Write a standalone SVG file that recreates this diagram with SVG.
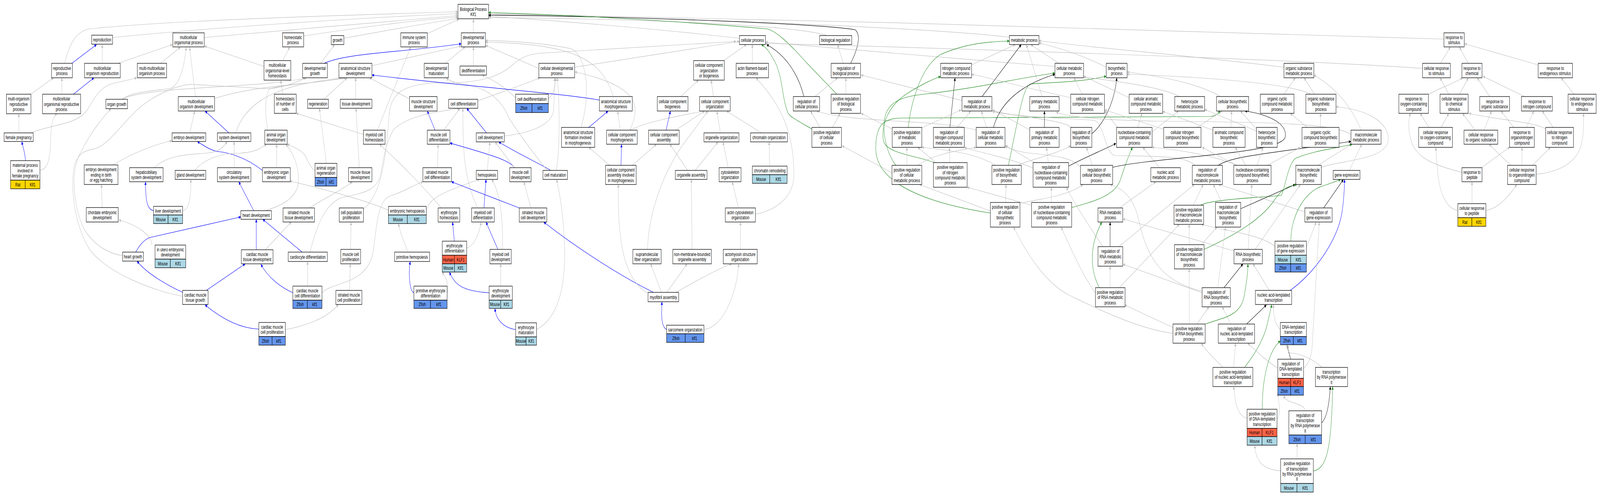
<svg xmlns="http://www.w3.org/2000/svg" width="6212" height="1269" viewBox="0 0 6212 1269" preserveAspectRatio="none">
<defs>
<marker id="ag" viewBox="0 0 10 10" refX="10" refY="5" markerWidth="11" markerHeight="8" markerUnits="userSpaceOnUse" orient="auto"><path d="M0,0L10,5L0,10z" fill="#c0c0c0"/></marker>
<marker id="ab" viewBox="0 0 10 10" refX="10" refY="5" markerWidth="11" markerHeight="8" markerUnits="userSpaceOnUse" orient="auto"><path d="M0,0L10,5L0,10z" fill="#0000ff"/></marker>
<marker id="ak" viewBox="0 0 10 10" refX="10" refY="5" markerWidth="11" markerHeight="8" markerUnits="userSpaceOnUse" orient="auto"><path d="M0,0L10,5L0,10z" fill="#000000"/></marker>
<marker id="av" viewBox="0 0 10 10" refX="10" refY="5" markerWidth="11" markerHeight="8" markerUnits="userSpaceOnUse" orient="auto"><path d="M0,0L10,5L0,10z" fill="#228b22"/></marker>
</defs>
<style>
svg{width:100vw;height:100vh;display:block}
.n rect{fill:#ffffff;stroke:#000000;stroke-width:1.3}
.n rect.r{fill:#ffd700}
.n rect.m{fill:#add8e6}
.n rect.z{fill:#6495ed}
.n rect.h{fill:#ff6347}
text{font-family:"Liberation Sans",Arial,Helvetica,sans-serif;font-size:12.8px;text-anchor:middle;dominant-baseline:central;fill:#000000}
#edges path{fill:none;stroke-width:1.2}
#edges .g{stroke:#c0c0c0;marker-end:url(#ag)}
#edges .b{stroke:#0000ff;marker-end:url(#ab)}
#edges .k{stroke:#000000;marker-end:url(#ak)}
#edges .v{stroke:#228b22;marker-end:url(#av)}
</style>
<rect x="0" y="0" width="6212" height="1269" fill="#ffffff"/>
<g id="edges">
<path class="g" d="M251,162 C270,110 295,82 345,74 C700,50 1400,38 1778,30"/>
<path class="g" d="M437,96 C800,72 1400,45 1778,35"/>
<path class="g" d="M793,96 C1100,78 1500,55 1778,40"/>
<path class="g" d="M1179,92 C1400,70 1600,52 1778,44"/>
<path class="g" d="M1335,98 C1500,78 1650,60 1781,47"/>
<path class="g" d="M1659,86 L1782,49"/>
<path class="g" d="M1838,84 L1838,49"/>
<path class="g" d="M2871,98 C2500,70 2100,50 1897,42"/>
<path class="g" d="M3211,91 C3100,65 2500,48 1897,45"/>
<path class="g" d="M3919,95 C3500,65 2500,45 1897,37"/>
<path class="g" d="M5606,100 C5000,88 3000,45 1897,35"/>
<path class="k" d="M3303,162 C3330,125 3345,90 3320,76 C3200,62 2500,42 1897,39"/>
<path class="v" d="M3249,241 L3135,163 C3050,100 3010,80 2980,74 C2600,52 2200,38 1897,32"/>
<path class="b" d="M279,162 L375,114"/>
<path class="g" d="M397,162 L397,114"/>
<path class="g" d="M458,162 L670,114"/>
<path class="g" d="M623,162 L700,121"/>
<path class="g" d="M120,241 L208,199"/>
<path class="g" d="M240,241 L240,199"/>
<path class="b" d="M285,241 L365,199"/>
<path class="g" d="M73,340 L73,291"/>
<path class="g" d="M119,340 C200,318 300,320 340,280 C370,245 390,225 430,215 C470,208 500,205 531,199"/>
<path class="b" d="M99,411 C97,390 88,375 85,362"/>
<path class="g" d="M155,436 C190,432 195,400 197,350 C199,310 210,295 222,291"/>
<path class="g" d="M474,254 C510,235 600,232 663,226 C700,215 715,170 723,121"/>
<path class="g" d="M474,254 C560,220 1050,225 1186,199"/>
<path class="g" d="M759,247 L736,121"/>
<path class="g" d="M1025,170 L794,118"/>
<path class="g" d="M737,340 L756,284"/>
<path class="b" d="M889,340 L796,284"/>
<path class="g" d="M833,252 C1000,215 1250,215 1327,199"/>
<path class="g" d="M915,340 C960,250 1100,215 1335,199"/>
<path class="g" d="M1040,333 C1028,290 1028,250 1045,228 C1100,215 1250,212 1343,199"/>
<path class="g" d="M476,654 C420,648 370,630 330,590 C280,530 275,430 312,392 C350,340 400,300 431,278"/>
<path class="g" d="M709,758 C600,745 420,700 350,640 C290,580 270,480 290,420 C310,385 340,385 371,380 C420,370 470,320 531,282 C600,240 700,215 749,216 L1040,227 C1100,225 1150,210 1190,199"/>
<path class="g" d="M438,422 C520,390 600,370 667,360"/>
<path class="b" d="M1019,436 C950,400 880,390 850,388 C820,386 790,372 766,362"/>
<path class="g" d="M600,429 C640,400 720,395 800,392 C850,390 870,375 882,362"/>
<path class="g" d="M909,429 L909,362"/>
<path class="g" d="M397,531 L394,472"/>
<path class="g" d="M590,627 C588,600 530,575 461,563"/>
<path class="b" d="M596,539 C570,536 565,510 565,465"/>
<path class="g" d="M709,539 C735,535 741,510 741,459"/>
<path class="g" d="M756,436 C800,400 880,392 930,392 C990,390 1010,380 1035,369"/>
<path class="g" d="M1030,539 C1100,525 1150,505 1158,470 C1162,440 1150,400 1110,369"/>
<path class="g" d="M1074,429 L1074,369"/>
<path class="g" d="M1223,436 C1205,430 1195,410 1185,398 C1170,385 1140,375 1115,369"/>
<path class="b" d="M985,539 L927,465"/>
<path class="b" d="M995,639 L995,561"/>
<path class="b" d="M1173,645 L1020,561"/>
<path class="b" d="M527,645 C540,630 555,615 580,608 L935,555"/>
<path class="b" d="M709,748 C650,730 570,700 532,668"/>
<path class="b" d="M801,743 L952,675"/>
<path class="b" d="M1137,749 C1090,735 1040,710 1013,676"/>
<path class="b" d="M1005,842 C930,840 860,815 796,780"/>
<path class="g" d="M1030,639 L1131,568"/>
<path class="g" d="M1098,155 L1125,120"/>
<path class="g" d="M1245,162 L1299,114"/>
<path class="g" d="M1465,333 L1595,120"/>
<path class="g" d="M1098,241 L1090,205"/>
<path class="g" d="M1411,344 L1150,290"/>
<path class="g" d="M1713,532 C1660,490 1560,420 1473,369"/>
<path class="g" d="M1267,418 L1240,277"/>
<path class="g" d="M1257,254 L1348,199"/>
<path class="g" d="M1381,254 L1381,199"/>
<path class="g" d="M1590,253 L1434,199"/>
<path class="g" d="M1395,429 L1382,277"/>
<path class="b" d="M1689,333 L1659,284"/>
<path class="g" d="M1723,333 L1786,277"/>
<path class="b" d="M1889,340 L1812,277"/>
<path class="g" d="M1855,532 C1800,460 1797,380 1797,277"/>
<path class="g" d="M1203,645 C1230,580 1260,520 1330,505 C1400,495 1470,490 1480,440 C1490,400 1500,360 1530,330 C1600,290 1720,285 1784,277"/>
<path class="g" d="M1411,535 C1480,500 1500,400 1510,300 C1515,240 1560,215 1700,212 C1850,214 1940,200 2000,160 C2040,140 2070,138 2100,136 L2858,106"/>
<path class="g" d="M1699,429 L1701,369"/>
<path class="b" d="M1997,429 C1980,410 1900,395 1747,366"/>
<path class="g" d="M1892,436 L1902,363"/>
<path class="g" d="M1997,429 L1922,363"/>
<path class="b" d="M2138,436 C2100,420 2030,400 1936,363"/>
<path class="g" d="M1958,348 C2060,340 2145,320 2150,280 L2153,199"/>
<path class="g" d="M1855,258 C1950,235 2040,215 2096,199"/>
<path class="g" d="M2002,250 C1980,238 1950,215 1872,192"/>
<path class="g" d="M2129,253 C2150,240 2158,220 2158,199"/>
<path class="g" d="M2125,436 C2080,400 2000,330 1975,300 C1950,260 1900,225 1800,215 C1760,212 1740,205 1733,199"/>
<path class="g" d="M2160,436 C2175,380 2172,260 2164,199"/>
<path class="g" d="M1655,540 C1665,510 1700,495 1862,459"/>
<path class="g" d="M1508,538 C1450,520 1300,490 1125,463"/>
<path class="b" d="M1879,532 L1887,459"/>
<path class="g" d="M1950,638 C1955,560 1940,490 1909,459"/>
<path class="b" d="M2016,532 C1950,515 1850,490 1753,465"/>
<path class="g" d="M2061,532 L2034,465"/>
<path class="g" d="M1250,749 C1290,720 1430,730 1450,640 C1465,560 1470,510 1520,500 C1570,490 1600,475 1642,465"/>
<path class="g" d="M1202,532 C1250,510 1320,490 1368,465"/>
<path class="g" d="M1361,638 L1363,568"/>
<path class="g" d="M1357,743 L1360,675"/>
<path class="g" d="M1108,843 C1180,835 1270,815 1314,779"/>
<path class="g" d="M1194,732 L1194,669"/>
<path class="g" d="M1584,645 C1570,620 1555,600 1547,572"/>
<path class="b" d="M1607,749 C1590,745 1585,700 1593,669"/>
<path class="b" d="M1764,617 L1757,568"/>
<path class="g" d="M1812,634 C1840,630 1860,600 1868,568"/>
<path class="g" d="M1736,750 C1745,735 1735,712 1716,696"/>
<path class="b" d="M1933,638 L1887,568"/>
<path class="b" d="M1899,749 C1800,745 1765,730 1745,696"/>
<path class="g" d="M1944,732 L1944,675"/>
<path class="b" d="M2002,843 C1960,840 1925,820 1922,789"/>
<path class="g" d="M2083,843 C2150,820 2195,760 2192,640 C2190,560 2175,500 2161,459"/>
<path class="b" d="M1258,162 C1350,135 1550,135 1791,112"/>
<path class="g" d="M1444,168 L1791,118"/>
<path class="g" d="M1728,162 L1806,120"/>
<path class="g" d="M1838,169 L1838,120"/>
<path class="g" d="M2092,175 L1885,116"/>
<path class="g" d="M2381,247 C2340,160 2250,112 1885,108"/>
<path class="g" d="M2256,326 C2290,250 2285,150 2220,125 C2100,108 1950,104 1885,104"/>
<path class="b" d="M2327,256 C2200,240 1800,220 1444,192"/>
<path class="g" d="M2810,155 L2898,114"/>
<path class="g" d="M2921,162 L2921,114"/>
<path class="g" d="M2231,172 L2871,106"/>
<path class="k" d="M3121,247 C3100,190 3050,140 2976,114"/>
<path class="v" d="M3152,330 C3100,310 3070,300 3060,290 C3035,250 3040,200 3010,160 C2990,135 2975,120 2956,114"/>
<path class="g" d="M4096,170 C3700,150 3200,120 2972,108"/>
<path class="g" d="M5523,175 C5000,150 3500,120 2972,111"/>
<path class="b" d="M2286,326 L2361,284"/>
<path class="g" d="M2408,333 L2398,284"/>
<path class="g" d="M2445,333 C2490,270 2480,220 2232,184"/>
<path class="g" d="M2445,333 C2500,315 2600,300 2736,284"/>
<path class="b" d="M2411,423 L2413,369"/>
<path class="g" d="M2367,423 L2286,377"/>
<path class="g" d="M2455,423 L2549,369"/>
<path class="b" d="M2586,333 L2603,284"/>
<path class="g" d="M2623,333 L2736,284"/>
<path class="g" d="M2643,247 L2712,205"/>
<path class="g" d="M2770,247 L2761,205"/>
<path class="g" d="M2797,340 L2783,284"/>
<path class="g" d="M2956,340 L2821,284"/>
<path class="g" d="M2514,638 C2520,520 2600,410 2680,345 C2720,310 2735,295 2749,284"/>
<path class="g" d="M2670,436 L2601,369"/>
<path class="g" d="M2699,436 L2788,363"/>
<path class="g" d="M2827,429 L2807,363"/>
<path class="g" d="M2988,425 L2986,363"/>
<path class="g" d="M2867,532 L2843,465"/>
<path class="g" d="M2933,548 C3000,540 3080,510 3082,450 C3085,330 3020,260 2935,199"/>
<path class="g" d="M2687,638 L2684,459"/>
<path class="g" d="M2875,638 L2875,568"/>
<path class="g" d="M2568,748 L2526,675"/>
<path class="g" d="M2589,748 L2668,675"/>
<path class="g" d="M2624,748 C2700,720 2780,690 2841,675"/>
<path class="b" d="M2537,748 C2420,710 2250,640 2111,568"/>
<path class="g" d="M2513,750 C2440,720 2395,650 2401,472"/>
<path class="b" d="M2588,843 C2565,835 2568,800 2570,772"/>
<path class="g" d="M2733,843 C2800,840 2860,760 2868,675"/>
<path class="g" d="M3274,162 L3252,114"/>
<path class="g" d="M3284,241 L3284,199"/>
<path class="g" d="M3164,247 L3252,199"/>
<path class="g" d="M3735,257 L3343,192"/>
<path class="g" d="M3232,326 L3262,290"/>
<path class="g" d="M3184,326 L3147,284"/>
<path class="g" d="M3790,333 C3650,305 3300,315 3171,284"/>
<path class="g" d="M3463,442 L3269,373"/>
<path class="g" d="M3464,330 L3343,290"/>
<path class="g" d="M3772,166 L3942,114"/>
<path class="k" d="M3813,247 L3965,114"/>
<path class="g" d="M4046,247 L3985,114"/>
<path class="g" d="M4111,162 L4002,114"/>
<path class="g" d="M4295,172 C4200,140 4100,120 4034,110"/>
<path class="g" d="M4985,172 C4600,140 4200,120 4034,104"/>
<path class="v" d="M3526,326 C3540,250 3580,170 3650,140 C3750,110 3850,106 3919,105"/>
<path class="k" d="M3688,326 L3708,199"/>
<path class="v" d="M3634,418 C3580,400 3440,395 3430,360 C3420,320 3450,270 3520,240 C3580,215 3630,200 3652,196"/>
<path class="v" d="M3478,423 C3440,390 3420,330 3440,290 C3460,255 3520,245 3600,240 C3800,225 3950,200 4096,187"/>
<path class="v" d="M3915,423 C3955,300 3970,225 4000,215 C4100,210 4200,210 4295,195"/>
<path class="v" d="M3845,545 C3600,520 3400,470 3400,380 C3400,320 3430,302 3500,302 L4700,298 C4720,297 4730,290 4738,284"/>
<path class="v" d="M4161,531 C4250,515 4330,500 4350,460 C4365,430 4380,400 4397,377"/>
<path class="g" d="M3716,326 L3769,284"/>
<path class="g" d="M3830,326 L3810,284"/>
<path class="g" d="M3579,327 L3732,281"/>
<path class="g" d="M3998,332 L3854,281"/>
<path class="g" d="M4160,326 C4120,305 3950,300 3852,283"/>
<path class="g" d="M4640,423 C4600,398 4500,400 4330,398 C4290,395 4290,320 4250,308 C4150,302 3950,300 3852,285"/>
<path class="k" d="M3857,326 C3880,270 3950,220 4096,190"/>
<path class="k" d="M4055,326 L4055,284"/>
<path class="g" d="M4157,250 C3950,220 3850,200 3772,190"/>
<path class="g" d="M3521,423 L3521,377"/>
<path class="g" d="M3634,416 L3563,377"/>
<path class="g" d="M3864,423 C3800,395 3700,385 3579,377"/>
<path class="g" d="M3688,416 L3686,377"/>
<path class="g" d="M3563,423 C3620,395 3720,385 3790,377"/>
<path class="g" d="M4016,416 L3904,372"/>
<path class="g" d="M4195,428 C4170,405 4100,398 4000,392 C3950,388 3920,380 3902,374"/>
<path class="g" d="M4011,430 C3900,400 3800,390 3744,377"/>
<path class="g" d="M4070,416 L4063,377"/>
<path class="g" d="M3904,518 L3906,472"/>
<path class="g" d="M3952,423 C3990,410 4100,395 4157,373"/>
<path class="g" d="M4082,518 L4082,479"/>
<path class="g" d="M3845,540 L3570,472"/>
<path class="g" d="M4005,525 L3755,479"/>
<path class="g" d="M4554,853 C4400,840 4200,770 4150,755 C4050,720 3980,640 3935,581"/>
<path class="g" d="M4253,750 C4200,700 4160,640 4120,581"/>
<path class="g" d="M4282,631 C4230,580 4170,520 4140,479"/>
<path class="g" d="M4241,423 L4218,377"/>
<path class="g" d="M3960,520 C4050,508 4150,500 4205,472"/>
<path class="g" d="M4667,745 C4500,720 4450,650 4420,560 C4400,500 4350,480 4310,472"/>
<path class="k" d="M4239,342 C4280,320 4325,270 4336,199"/>
<path class="g" d="M4738,247 C4650,212 4500,195 4376,184"/>
<path class="g" d="M5090,241 C5000,210 4600,195 4376,190"/>
<path class="g" d="M4201,241 L4170,199"/>
<path class="g" d="M4384,250 L4207,195"/>
<path class="g" d="M4580,247 C4500,220 4300,205 4207,197"/>
<path class="g" d="M4985,241 L5029,199"/>
<path class="g" d="M5103,241 L5063,199"/>
<path class="g" d="M5285,333 C5250,280 5200,230 5101,192"/>
<path class="g" d="M4468,340 L4576,284"/>
<path class="g" d="M4417,326 L4434,290"/>
<path class="g" d="M4339,326 L4289,284"/>
<path class="k" d="M4149,425 C4220,400 4280,385 4333,367"/>
<path class="g" d="M4502,429 L4437,377"/>
<path class="g" d="M4802,423 C4720,400 4600,385 4473,377"/>
<path class="g" d="M4648,326 L4745,284"/>
<path class="g" d="M4779,326 L4782,284"/>
<path class="g" d="M4878,330 L4816,284"/>
<path class="k" d="M4320,428 C4500,400 4980,395 4990,350 C5000,310 4900,290 4833,284"/>
<path class="g" d="M4878,335 L4677,280"/>
<path class="g" d="M4709,333 L4514,285"/>
<path class="g" d="M4518,331 L4289,281"/>
<path class="g" d="M5076,326 L5009,290"/>
<path class="g" d="M5127,326 L5127,290"/>
<path class="g" d="M5130,428 C5200,410 5380,410 5390,360 C5395,310 5300,280 5187,273"/>
<path class="g" d="M5117,423 L5247,369"/>
<path class="g" d="M5239,436 L5287,369"/>
<path class="k" d="M4730,423 C4780,400 4900,395 5245,362"/>
<path class="v" d="M4661,525 C4700,510 4900,505 4975,500 C4990,480 5000,420 5030,405 C5100,385 5200,378 5250,369"/>
<path class="g" d="M5245,345 C5200,315 4900,312 4500,310 C4300,308 4150,300 4100,287"/>
<path class="g" d="M4880,423 L4904,377"/>
<path class="g" d="M4836,423 L4796,377"/>
<path class="g" d="M4802,423 L4667,377"/>
<path class="g" d="M4921,423 L5049,377"/>
<path class="g" d="M4846,638 L4860,472"/>
<path class="g" d="M4346,532 L4488,465"/>
<path class="k" d="M4310,631 L4310,568"/>
<path class="g" d="M4791,642 L4360,560"/>
<path class="v" d="M4268,736 C4240,700 4220,640 4278,568"/>
<path class="g" d="M4633,525 L4671,472"/>
<path class="g" d="M4743,518 L4711,472"/>
<path class="g" d="M5066,542 L4731,472"/>
<path class="g" d="M4344,631 L4637,472"/>
<path class="k" d="M4817,534 L5029,472"/>
<path class="v" d="M4675,638 C4800,600 4900,560 4950,510 C4980,480 5010,475 5036,472"/>
<path class="g" d="M4873,638 L5049,472"/>
<path class="k" d="M5139,532 L5216,459"/>
<path class="v" d="M5012,617 C5010,560 5060,488 5140,475 C5170,468 5195,462 5205,459"/>
<path class="b" d="M5009,743 C5100,700 5190,620 5210,545 C5218,510 5220,480 5220,459"/>
<path class="g" d="M5072,634 L5110,568"/>
<path class="g" d="M5063,942 C5085,925 5093,910 5095,880 L5122,568"/>
<path class="g" d="M4728,736 L4758,581"/>
<path class="g" d="M4664,626 L4725,581"/>
<path class="g" d="M4617,626 L4617,574"/>
<path class="g" d="M4346,736 L4579,574"/>
<path class="g" d="M4950,631 C4900,600 4750,590 4664,574"/>
<path class="g" d="M4667,749 L4360,676"/>
<path class="g" d="M4310,736 L4310,681"/>
<path class="g" d="M4617,829 L4617,688"/>
<path class="g" d="M4647,829 L4694,785"/>
<path class="g" d="M4779,829 L4745,785"/>
<path class="k" d="M4752,736 L4826,675"/>
<path class="v" d="M4679,829 C4750,812 4813,810 4830,760 C4840,720 4845,700 4845,675"/>
<path class="g" d="M4928,743 L4865,675"/>
<path class="g" d="M4554,838 L4366,780"/>
<path class="g" d="M4747,939 C4720,920 4690,905 4664,878"/>
<path class="k" d="M4840,829 L4917,780"/>
<path class="v" d="M4833,939 C4880,900 4910,860 4920,830 C4930,800 4935,790 4937,779"/>
<path class="g" d="M4971,843 C4950,830 4944,810 4944,779"/>
<path class="g" d="M4790,939 L4797,878"/>
<path class="g" d="M4961,942 C4920,925 4880,900 4844,878"/>
<path class="k" d="M5011,919 C5005,905 5000,893 4997,882"/>
<path class="v" d="M4901,1047 C4900,980 4920,900 4971,872"/>
<path class="g" d="M5133,940 C5090,915 5050,905 5010,903 C5000,900 4998,892 4997,882"/>
<path class="k" d="M5131,1082 C5150,1070 5160,1040 5165,989"/>
<path class="v" d="M5099,1205 C5150,1200 5170,1150 5174,989"/>
<path class="g" d="M4972,1205 C4900,1200 4875,1180 4872,1139"/>
<path class="g" d="M5036,1174 L5036,1135"/>
<path class="g" d="M5068,1051 C5065,1035 5020,1032 5000,1025 C4990,1020 4986,1015 4986,1011"/>
<path class="g" d="M4958,1072 C4972,1065 4968,1035 4960,1006"/>
<path class="g" d="M4842,1070 C4810,1065 4795,1040 4790,989"/>
<path class="g" d="M5593,162 L5631,120"/>
<path class="g" d="M5700,162 L5666,120"/>
<path class="g" d="M5972,166 L5686,112"/>
<path class="g" d="M5625,241 L5591,199"/>
<path class="g" d="M5667,241 L5701,199"/>
<path class="g" d="M5547,241 C5590,225 5640,215 5679,199"/>
<path class="g" d="M5784,247 L5735,199"/>
<path class="g" d="M5919,247 L5757,195"/>
<path class="g" d="M6111,241 L6061,199"/>
<path class="g" d="M5548,326 L5514,290"/>
<path class="g" d="M5595,326 L5625,290"/>
<path class="g" d="M5727,333 L5678,290"/>
<path class="g" d="M6001,330 C5960,312 5800,305 5703,290"/>
<path class="g" d="M5762,333 L5791,284"/>
<path class="g" d="M5877,326 L5828,284"/>
<path class="g" d="M5926,326 L5955,284"/>
<path class="g" d="M6030,326 L5988,284"/>
<path class="g" d="M5676,441 C5550,420 5490,400 5475,350 C5465,320 5470,300 5477,290"/>
<path class="g" d="M5754,428 L5862,376"/>
<path class="g" d="M5865,423 L5781,369"/>
<path class="g" d="M5909,423 L5909,377"/>
<path class="g" d="M5950,423 L6020,377"/>
<path class="g" d="M5964,446 C6050,440 6110,420 6135,380 C6150,350 6148,320 6148,290"/>
<path class="g" d="M5715,521 L5715,465"/>
<path class="g" d="M5660,538 C5620,535 5590,500 5582,440 C5578,410 5575,390 5575,377"/>
<path class="g" d="M5769,538 C5810,535 5850,510 5889,472"/>
</g>
<g id="nodes">
<g id="reproduction" class="n"><rect x="356" y="90" width="81" height="23"/><text x="396.5" y="101.5">reproduction</text></g>
<g id="multicellular_organismal_process" class="n"><rect x="671" y="84" width="122" height="36"/><text><tspan x="732" y="95.4">multicellular</tspan><tspan x="732" y="108.7">organismal process</tspan></text></g>
<g id="reproductive_process" class="n"><rect x="200" y="162" width="81" height="37"/><text><tspan x="240.5" y="173.9">reproductive</tspan><tspan x="240.5" y="187.2">process</tspan></text></g>
<g id="multicellular_organism_reproduction" class="n"><rect x="328" y="162" width="139" height="37"/><text><tspan x="397.5" y="173.9">multicellular</tspan><tspan x="397.5" y="187.2">organism reproduction</tspan></text></g>
<g id="multi_multicellular_organism_process" class="n"><rect x="533" y="162" width="114" height="37"/><text><tspan x="590" y="173.9">multi-multicellular</tspan><tspan x="590" y="187.2">organism process</tspan></text></g>
<g id="multi_organism_reproductive_process" class="n"><rect x="25" y="241" width="95" height="50"/><text><tspan x="72.5" y="252.7">multi-organism</tspan><tspan x="72.5" y="266">reproductive</tspan><tspan x="72.5" y="279.3">process</tspan></text></g>
<g id="multicellular_organismal_reproductive_process" class="n"><rect x="165" y="241" width="148" height="50"/><text><tspan x="239" y="252.7">multicellular</tspan><tspan x="239" y="266">organismal reproductive</tspan><tspan x="239" y="279.3">process</tspan></text></g>
<g id="organ_growth" class="n"><rect x="411" y="254" width="84" height="24"/><text x="453" y="266">organ growth</text></g>
<g id="multicellular_organism_development" class="n"><rect x="692" y="247" width="141" height="37"/><text><tspan x="762.5" y="258.9">multicellular</tspan><tspan x="762.5" y="272.2">organism development</tspan></text></g>
<g id="female_pregnancy" class="n"><rect x="16" y="340" width="113" height="22"/><text x="72.5" y="351">female pregnancy</text></g>
<g id="embryo_development" class="n"><rect x="668" y="340" width="131" height="22"/><text x="733.5" y="351">embryo development</text></g>
<g id="system_development" class="n"><rect x="844" y="340" width="130" height="22"/><text x="909" y="351">system development</text></g>
<g id="maternal_process" class="n"><rect x="41" y="411" width="114" height="50"/><text><tspan x="98" y="422.7">maternal process</tspan><tspan x="98" y="436">involved in</tspan><tspan x="98" y="449.3">female pregnancy</tspan></text><rect class="r" x="41" y="461" width="57" height="22"/><rect class="r" x="98" y="461" width="57" height="22"/><text x="69.5" y="472">Rat</text><text x="126.5" y="472">Klf1</text></g>
<g id="embryo_development_ending_in_birth" class="n"><rect x="327" y="422" width="131" height="50"/><text><tspan x="392.5" y="433.7">embryo development</tspan><tspan x="392.5" y="447">ending in birth</tspan><tspan x="392.5" y="460.3">or egg hatching</tspan></text></g>
<g id="hepaticobiliary_system_development" class="n"><rect x="503" y="429" width="130" height="36"/><text><tspan x="568" y="440.4">hepaticobiliary</tspan><tspan x="568" y="453.7">system development</tspan></text></g>
<g id="gland_development" class="n"><rect x="680" y="436" width="119" height="23"/><text x="739.5" y="447.5">gland development</text></g>
<g id="circulatory_system_development" class="n"><rect x="844" y="429" width="130" height="36"/><text><tspan x="909" y="440.4">circulatory</tspan><tspan x="909" y="453.7">system development</tspan></text></g>
<g id="liver_development" class="n"><rect x="596" y="528" width="113" height="22"/><text x="652.5" y="539">liver development</text><rect class="m" x="596" y="550" width="56.5" height="22"/><rect class="m" x="652.5" y="550" width="56.5" height="22"/><text x="624.3" y="561">Mouse</text><text x="680.8" y="561">Klf1</text></g>
<g id="chordate_embryonic_development" class="n"><rect x="335" y="531" width="124" height="37"/><text><tspan x="397" y="542.9">chordate embryonic</tspan><tspan x="397" y="556.2">development</tspan></text></g>
<g id="heart_development" class="n"><rect x="935" y="539" width="119" height="22"/><text x="994.5" y="550">heart development</text></g>
<g id="in_utero_embryonic_development" class="n"><rect x="602" y="627" width="119" height="36"/><text><tspan x="661.5" y="638.4">in utero embryonic</tspan><tspan x="661.5" y="651.7">development</tspan></text><rect class="m" x="602" y="663" width="59.5" height="22"/><rect class="m" x="661.5" y="663" width="59.5" height="22"/><text x="631.8" y="674">Mouse</text><text x="691.3" y="674">Klf1</text></g>
<g id="heart_growth" class="n"><rect x="476" y="645" width="81" height="23"/><text x="516.5" y="656.5">heart growth</text></g>
<g id="cardiac_muscle_tissue_growth" class="n"><rect x="709" y="743" width="99" height="36"/><text><tspan x="758.5" y="754.4">cardiac muscle</tspan><tspan x="758.5" y="767.7">tissue growth</tspan></text></g>
<g id="cardiac_muscle_cell_proliferation" class="n"><rect x="1005" y="825" width="103" height="36"/><text><tspan x="1056.5" y="836.4">cardiac muscle</tspan><tspan x="1056.5" y="849.7">cell proliferation</tspan></text><rect class="z" x="1005" y="861" width="51.5" height="22"/><rect class="z" x="1056.5" y="861" width="51.5" height="22"/><text x="1030.8" y="872">Zfish</text><text x="1082.3" y="872">klf1</text></g>
<g id="cardiac_muscle_tissue_development" class="n"><rect x="937" y="639" width="123" height="36"/><text><tspan x="998.5" y="650.4">cardiac muscle</tspan><tspan x="998.5" y="663.7">tissue development</tspan></text></g>
<g id="biological_process" class="n"><rect x="1778" y="11" width="119" height="37"/><text><tspan x="1837.5" y="22.9">Biological Process</tspan><tspan x="1837.5" y="36.2">Klf1</tspan></text></g>
<g id="homeostatic_process" class="n"><rect x="1097" y="84" width="82" height="36"/><text><tspan x="1138" y="95.4">homeostatic</tspan><tspan x="1138" y="108.7">process</tspan></text></g>
<g id="growth" class="n"><rect x="1286" y="91" width="49" height="23"/><text x="1310.5" y="102.5">growth</text></g>
<g id="immune_system_process" class="n"><rect x="1556" y="84" width="103" height="36"/><text><tspan x="1607.5" y="95.4">immune system</tspan><tspan x="1607.5" y="108.7">process</tspan></text></g>
<g id="developmental_process" class="n"><rect x="1791" y="84" width="94" height="36"/><text><tspan x="1838" y="95.4">developmental</tspan><tspan x="1838" y="108.7">process</tspan></text></g>
<g id="multicellular_organismal_level_homeostasis" class="n"><rect x="1025" y="155" width="104" height="50"/><text><tspan x="1077" y="166.7">multicellular</tspan><tspan x="1077" y="180">organismal-level</tspan><tspan x="1077" y="193.3">homeostasis</tspan></text></g>
<g id="developmental_growth" class="n"><rect x="1175" y="162" width="96" height="37"/><text><tspan x="1223" y="173.9">developmental</tspan><tspan x="1223" y="187.2">growth</tspan></text></g>
<g id="anatomical_structure_development" class="n"><rect x="1316" y="162" width="128" height="37"/><text><tspan x="1380" y="173.9">anatomical structure</tspan><tspan x="1380" y="187.2">development</tspan></text></g>
<g id="developmental_maturation" class="n"><rect x="1647" y="162" width="94" height="37"/><text><tspan x="1694" y="173.9">developmental</tspan><tspan x="1694" y="187.2">maturation</tspan></text></g>
<g id="dedifferentiation" class="n"><rect x="1786" y="169" width="103" height="23"/><text x="1837.5" y="180.5">dedifferentiation</text></g>
<g id="homeostasis_of_number_of_cells" class="n"><rect x="1065" y="241" width="85" height="49"/><text><tspan x="1107.5" y="252.2">homeostasis</tspan><tspan x="1107.5" y="265.5">of number of</tspan><tspan x="1107.5" y="278.8">cells</tspan></text></g>
<g id="regeneration" class="n"><rect x="1194" y="254" width="81" height="23"/><text x="1234.5" y="265.5">regeneration</text></g>
<g id="tissue_development" class="n"><rect x="1321" y="254" width="123" height="23"/><text x="1382.5" y="265.5">tissue development</text></g>
<g id="muscle_structure_development" class="n"><rect x="1590" y="247" width="107" height="37"/><text><tspan x="1643.5" y="258.9">muscle structure</tspan><tspan x="1643.5" y="272.2">development</tspan></text></g>
<g id="cell_differentiation" class="n"><rect x="1742" y="254" width="113" height="23"/><text x="1798.5" y="265.5">cell differentiation</text></g>
<g id="cell_dedifferentiation" class="n"><rect x="2002" y="241" width="127" height="24"/><text x="2065.5" y="253">cell dedifferentiation</text><rect class="z" x="2002" y="265" width="63.5" height="23"/><rect class="z" x="2065.5" y="265" width="63.5" height="23"/><text x="2033.8" y="276.5">Zfish</text><text x="2097.3" y="276.5">klf1</text></g>
<g id="animal_organ_development" class="n"><rect x="1028" y="333" width="87" height="36"/><text><tspan x="1071.5" y="344.4">animal organ</tspan><tspan x="1071.5" y="357.7">development</tspan></text></g>
<g id="myeloid_cell_homeostasis" class="n"><rect x="1411" y="333" width="84" height="36"/><text><tspan x="1453" y="344.4">myeloid cell</tspan><tspan x="1453" y="357.7">homeostasis</tspan></text></g>
<g id="muscle_cell_differentiation" class="n"><rect x="1659" y="333" width="88" height="36"/><text><tspan x="1703" y="344.4">muscle cell</tspan><tspan x="1703" y="357.7">differentiation</tspan></text></g>
<g id="cell_development" class="n"><rect x="1849" y="340" width="109" height="23"/><text x="1903.5" y="351.5">cell development</text></g>
<g id="embryonic_organ_development" class="n"><rect x="1019" y="429" width="108" height="36"/><text><tspan x="1073" y="440.4">embryonic organ</tspan><tspan x="1073" y="453.7">development</tspan></text></g>
<g id="animal_organ_regeneration" class="n"><rect x="1223" y="418" width="85" height="36"/><text><tspan x="1265.5" y="429.4">animal organ</tspan><tspan x="1265.5" y="442.7">regeneration</tspan></text><rect class="z" x="1223" y="454" width="42.5" height="22"/><rect class="z" x="1265.5" y="454" width="42.5" height="22"/><text x="1244.3" y="465">Zfish</text><text x="1286.8" y="465">klf1</text></g>
<g id="muscle_tissue_development" class="n"><rect x="1353" y="429" width="91" height="36"/><text><tspan x="1398.5" y="440.4">muscle tissue</tspan><tspan x="1398.5" y="453.7">development</tspan></text></g>
<g id="striated_muscle_cell_differentiation" class="n"><rect x="1642" y="429" width="111" height="36"/><text><tspan x="1697.5" y="440.4">striated muscle</tspan><tspan x="1697.5" y="453.7">cell differentiation</tspan></text></g>
<g id="hemopoiesis" class="n"><rect x="1849" y="436" width="83" height="23"/><text x="1890.5" y="447.5">hemopoiesis</text></g>
<g id="muscle_cell_development" class="n"><rect x="1979" y="429" width="83" height="36"/><text><tspan x="2020.5" y="440.4">muscle cell</tspan><tspan x="2020.5" y="453.7">development</tspan></text></g>
<g id="striated_muscle_tissue_development" class="n"><rect x="1099" y="532" width="122" height="36"/><text><tspan x="1160" y="543.4">striated muscle</tspan><tspan x="1160" y="556.7">tissue development</tspan></text></g>
<g id="cell_population_proliferation" class="n"><rect x="1317" y="532" width="94" height="36"/><text><tspan x="1364" y="543.4">cell population</tspan><tspan x="1364" y="556.7">proliferation</tspan></text></g>
<g id="embryonic_hemopoiesis" class="n"><rect x="1508" y="528" width="147" height="22"/><text x="1581.5" y="539">embryonic hemopoiesis</text><rect class="m" x="1508" y="550" width="73.5" height="22"/><rect class="m" x="1581.5" y="550" width="73.5" height="22"/><text x="1544.8" y="561">Mouse</text><text x="1618.3" y="561">Klf1</text></g>
<g id="erythrocyte_homeostasis" class="n"><rect x="1701" y="532" width="84" height="36"/><text><tspan x="1743" y="543.4">erythrocyte</tspan><tspan x="1743" y="556.7">homeostasis</tspan></text></g>
<g id="myeloid_cell_differentiation" class="n"><rect x="1831" y="532" width="88" height="36"/><text><tspan x="1875" y="543.4">myeloid cell</tspan><tspan x="1875" y="556.7">differentiation</tspan></text></g>
<g id="striated_muscle_cell_development" class="n"><rect x="2016" y="532" width="107" height="36"/><text><tspan x="2069.5" y="543.4">striated muscle</tspan><tspan x="2069.5" y="556.7">cell development</tspan></text></g>
<g id="cardiocyte_differentiation" class="n"><rect x="1119" y="645" width="152" height="24"/><text x="1195" y="657">cardiocyte differentiation</text></g>
<g id="muscle_cell_proliferation" class="n"><rect x="1323" y="638" width="77" height="37"/><text><tspan x="1361.5" y="649.9">muscle cell</tspan><tspan x="1361.5" y="663.2">proliferation</tspan></text></g>
<g id="primitive_hemopoiesis" class="n"><rect x="1532" y="645" width="136" height="24"/><text x="1600" y="657">primitive hemopoiesis</text></g>
<g id="erythrocyte_differentiation" class="n"><rect x="1717" y="617" width="95" height="36"/><text><tspan x="1764.5" y="628.4">erythrocyte</tspan><tspan x="1764.5" y="641.7">differentiation</tspan></text><rect class="h" x="1717" y="653" width="47.5" height="22"/><rect class="h" x="1764.5" y="653" width="47.5" height="22"/><text x="1740.8" y="664">Human</text><text x="1788.3" y="664">KLF1</text><rect class="m" x="1717" y="675" width="47.5" height="21"/><rect class="m" x="1764.5" y="675" width="47.5" height="21"/><text x="1740.8" y="685.5">Mouse</text><text x="1788.3" y="685.5">Klf1</text></g>
<g id="myeloid_cell_development" class="n"><rect x="1902" y="638" width="83" height="37"/><text><tspan x="1943.5" y="649.9">myeloid cell</tspan><tspan x="1943.5" y="663.2">development</tspan></text></g>
<g id="cardiac_muscle_cell_differentiation" class="n"><rect x="1137" y="732" width="113" height="36"/><text><tspan x="1193.5" y="743.4">cardiac muscle</tspan><tspan x="1193.5" y="756.7">cell differentiation</tspan></text><rect class="z" x="1137" y="768" width="56.5" height="21"/><rect class="z" x="1193.5" y="768" width="56.5" height="21"/><text x="1165.3" y="778.5">Zfish</text><text x="1221.8" y="778.5">klf1</text></g>
<g id="striated_muscle_cell_proliferation" class="n"><rect x="1304" y="743" width="101" height="36"/><text><tspan x="1354.5" y="754.4">striated muscle</tspan><tspan x="1354.5" y="767.7">cell proliferation</tspan></text></g>
<g id="primitive_erythrocyte_differentiation" class="n"><rect x="1607" y="732" width="129" height="36"/><text><tspan x="1671.5" y="743.4">primitive erythrocyte</tspan><tspan x="1671.5" y="756.7">differentiation</tspan></text><rect class="z" x="1607" y="768" width="64.5" height="21"/><rect class="z" x="1671.5" y="768" width="64.5" height="21"/><text x="1639.3" y="778.5">Zfish</text><text x="1703.8" y="778.5">klf1</text></g>
<g id="erythrocyte_development" class="n"><rect x="1899" y="732" width="90" height="36"/><text><tspan x="1944" y="743.4">erythrocyte</tspan><tspan x="1944" y="756.7">development</tspan></text><rect class="m" x="1899" y="768" width="45" height="21"/><rect class="m" x="1944" y="768" width="45" height="21"/><text x="1921.5" y="778.5">Mouse</text><text x="1966.5" y="778.5">Klf1</text></g>
<g id="erythrocyte_maturation" class="n"><rect x="2002" y="826" width="81" height="36"/><text><tspan x="2042.5" y="837.4">erythrocyte</tspan><tspan x="2042.5" y="850.7">maturation</tspan></text><rect class="m" x="2002" y="862" width="40.5" height="21"/><rect class="m" x="2042.5" y="862" width="40.5" height="21"/><text x="2022.3" y="872.5">Mouse</text><text x="2062.8" y="872.5">Klf1</text></g>
<g id="cellular_process" class="n"><rect x="2871" y="91" width="101" height="23"/><text x="2921.5" y="102.5">cellular process</text></g>
<g id="cellular_developmental_process" class="n"><rect x="2092" y="162" width="139" height="37"/><text><tspan x="2161.5" y="173.9">cellular developmental</tspan><tspan x="2161.5" y="187.2">process</tspan></text></g>
<g id="cellular_component_organization_or_biogenesis" class="n"><rect x="2693" y="155" width="119" height="50"/><text><tspan x="2752.5" y="166.7">cellular component</tspan><tspan x="2752.5" y="180">organization</tspan><tspan x="2752.5" y="193.3">or biogenesis</tspan></text></g>
<g id="actin_filament_based_process" class="n"><rect x="2858" y="162" width="126" height="37"/><text><tspan x="2921" y="173.9">actin filament-based</tspan><tspan x="2921" y="187.2">process</tspan></text></g>
<g id="anatomical_structure_morphogenesis" class="n"><rect x="2327" y="247" width="128" height="37"/><text><tspan x="2391" y="258.9">anatomical structure</tspan><tspan x="2391" y="272.2">morphogenesis</tspan></text></g>
<g id="cellular_component_biogenesis" class="n"><rect x="2552" y="247" width="119" height="37"/><text><tspan x="2611.5" y="258.9">cellular component</tspan><tspan x="2611.5" y="272.2">biogenesis</tspan></text></g>
<g id="cellular_component_organization" class="n"><rect x="2716" y="247" width="119" height="37"/><text><tspan x="2775.5" y="258.9">cellular component</tspan><tspan x="2775.5" y="272.2">organization</tspan></text></g>
<g id="regulation_of_cellular_process" class="n"><rect x="3080" y="247" width="102" height="37"/><text><tspan x="3131" y="258.9">regulation of</tspan><tspan x="3131" y="272.2">cellular process</tspan></text></g>
<g id="anatomical_structure_formation" class="n"><rect x="2180" y="326" width="129" height="51"/><text><tspan x="2244.5" y="338.2">anatomical structure</tspan><tspan x="2244.5" y="351.5">formation involved</tspan><tspan x="2244.5" y="364.8">in morphogenesis</tspan></text></g>
<g id="cellular_component_morphogenesis" class="n"><rect x="2355" y="333" width="119" height="36"/><text><tspan x="2414.5" y="344.4">cellular component</tspan><tspan x="2414.5" y="357.7">morphogenesis</tspan></text></g>
<g id="cellular_component_assembly" class="n"><rect x="2518" y="333" width="119" height="36"/><text><tspan x="2577.5" y="344.4">cellular component</tspan><tspan x="2577.5" y="357.7">assembly</tspan></text></g>
<g id="organelle_organization" class="n"><rect x="2733" y="340" width="136" height="23"/><text x="2801" y="351.5">organelle organization</text></g>
<g id="chromatin_organization" class="n"><rect x="2914" y="340" width="143" height="23"/><text x="2985.5" y="351.5">chromatin organization</text></g>
<g id="cell_maturation" class="n"><rect x="2108" y="436" width="95" height="23"/><text x="2155.5" y="447.5">cell maturation</text></g>
<g id="cellular_component_assembly_morphogenesis" class="n"><rect x="2351" y="423" width="119" height="49"/><text><tspan x="2410.5" y="434.2">cellular component</tspan><tspan x="2410.5" y="447.5">assembly involved</tspan><tspan x="2410.5" y="460.8">in morphogenesis</tspan></text></g>
<g id="organelle_assembly" class="n"><rect x="2622" y="436" width="123" height="23"/><text x="2683.5" y="447.5">organelle assembly</text></g>
<g id="cytoskeleton_organization" class="n"><rect x="2792" y="429" width="85" height="36"/><text><tspan x="2834.5" y="440.4">cytoskeleton</tspan><tspan x="2834.5" y="453.7">organization</tspan></text></g>
<g id="chromatin_remodeling" class="n"><rect x="2921" y="425" width="135" height="22"/><text x="2988.5" y="436">chromatin remodeling</text><rect class="m" x="2921" y="447" width="67.5" height="22"/><rect class="m" x="2988.5" y="447" width="67.5" height="22"/><text x="2954.8" y="458">Mouse</text><text x="3022.3" y="458">Klf1</text></g>
<g id="actin_cytoskeleton_organization" class="n"><rect x="2816" y="532" width="117" height="36"/><text><tspan x="2874.5" y="543.4">actin cytoskeleton</tspan><tspan x="2874.5" y="556.7">organization</tspan></text></g>
<g id="supramolecular_fiber_organization" class="n"><rect x="2457" y="638" width="110" height="37"/><text><tspan x="2512" y="649.9">supramolecular</tspan><tspan x="2512" y="663.2">fiber organization</tspan></text></g>
<g id="non_membrane_bounded_organelle_assembly" class="n"><rect x="2612" y="638" width="150" height="37"/><text><tspan x="2687" y="649.9">non-membrane-bounded</tspan><tspan x="2687" y="663.2">organelle assembly</tspan></text></g>
<g id="actomyosin_structure_organization" class="n"><rect x="2808" y="638" width="132" height="37"/><text><tspan x="2874" y="649.9">actomyosin structure</tspan><tspan x="2874" y="663.2">organization</tspan></text></g>
<g id="myofibril_assembly" class="n"><rect x="2516" y="748" width="119" height="24"/><text x="2575.5" y="760">myofibril assembly</text></g>
<g id="sarcomere_organization" class="n"><rect x="2588" y="832" width="145" height="22"/><text x="2660.5" y="843">sarcomere organization</text><rect class="z" x="2588" y="854" width="72.5" height="22"/><rect class="z" x="2660.5" y="854" width="72.5" height="22"/><text x="2624.3" y="865">Zfish</text><text x="2696.8" y="865">klf1</text></g>
<g id="biological_regulation" class="n"><rect x="3182" y="91" width="125" height="23"/><text x="3244.5" y="102.5">biological regulation</text></g>
<g id="metabolic_process" class="n"><rect x="3919" y="91" width="115" height="23"/><text x="3976.5" y="102.5">metabolic process</text></g>
<g id="regulation_of_biological_process" class="n"><rect x="3227" y="162" width="114" height="37"/><text><tspan x="3284" y="173.9">regulation of</tspan><tspan x="3284" y="187.2">biological process</tspan></text></g>
<g id="nitrogen_compound_metabolic_process" class="n"><rect x="3652" y="162" width="120" height="37"/><text><tspan x="3712" y="173.9">nitrogen compound</tspan><tspan x="3712" y="187.2">metabolic process</tspan></text></g>
<g id="cellular_metabolic_process" class="n"><rect x="4096" y="162" width="111" height="37"/><text><tspan x="4151.5" y="173.9">cellular metabolic</tspan><tspan x="4151.5" y="187.2">process</tspan></text></g>
<g id="positive_regulation_of_biological_process" class="n"><rect x="3227" y="241" width="114" height="49"/><text><tspan x="3284" y="252.2">positive regulation</tspan><tspan x="3284" y="265.5">of biological</tspan><tspan x="3284" y="278.8">process</tspan></text></g>
<g id="regulation_of_metabolic_process" class="n"><rect x="3735" y="247" width="116" height="37"/><text><tspan x="3793" y="258.9">regulation of</tspan><tspan x="3793" y="272.2">metabolic process</tspan></text></g>
<g id="primary_metabolic_process" class="n"><rect x="3998" y="247" width="114" height="37"/><text><tspan x="4055" y="258.9">primary metabolic</tspan><tspan x="4055" y="272.2">process</tspan></text></g>
<g id="cellular_nitrogen_compound_metabolic_process" class="n"><rect x="4157" y="241" width="131" height="49"/><text><tspan x="4222.5" y="252.2">cellular nitrogen</tspan><tspan x="4222.5" y="265.5">compound metabolic</tspan><tspan x="4222.5" y="278.8">process</tspan></text></g>
<g id="positive_regulation_of_cellular_process" class="n"><rect x="3152" y="326" width="115" height="51"/><text><tspan x="3209.5" y="338.2">positive regulation</tspan><tspan x="3209.5" y="351.5">of cellular</tspan><tspan x="3209.5" y="364.8">process</tspan></text></g>
<g id="positive_regulation_of_metabolic_process" class="n"><rect x="3464" y="326" width="115" height="51"/><text><tspan x="3521.5" y="338.2">positive regulation</tspan><tspan x="3521.5" y="351.5">of metabolic</tspan><tspan x="3521.5" y="364.8">process</tspan></text></g>
<g id="regulation_of_nitrogen_compound_metabolic_process" class="n"><rect x="3624" y="326" width="120" height="51"/><text><tspan x="3684" y="338.2">regulation of</tspan><tspan x="3684" y="351.5">nitrogen compound</tspan><tspan x="3684" y="364.8">metabolic process</tspan></text></g>
<g id="regulation_of_cellular_metabolic_process" class="n"><rect x="3790" y="326" width="112" height="51"/><text><tspan x="3846" y="338.2">regulation of</tspan><tspan x="3846" y="351.5">cellular metabolic</tspan><tspan x="3846" y="364.8">process</tspan></text></g>
<g id="regulation_of_primary_metabolic_process" class="n"><rect x="3998" y="326" width="114" height="51"/><text><tspan x="4055" y="338.2">regulation of</tspan><tspan x="4055" y="351.5">primary metabolic</tspan><tspan x="4055" y="364.8">process</tspan></text></g>
<g id="regulation_of_biosynthetic_process" class="n"><rect x="4157" y="326" width="82" height="51"/><text><tspan x="4198" y="338.2">regulation of</tspan><tspan x="4198" y="351.5">biosynthetic</tspan><tspan x="4198" y="364.8">process</tspan></text></g>
<g id="positive_regulation_of_cellular_metabolic_process" class="n"><rect x="3463" y="423" width="116" height="49"/><text><tspan x="3521" y="434.2">positive regulation</tspan><tspan x="3521" y="447.5">of cellular</tspan><tspan x="3521" y="460.8">metabolic process</tspan></text></g>
<g id="positive_regulation_of_nitrogen_compound_metabolic_process" class="n"><rect x="3624" y="416" width="131" height="63"/><text><tspan x="3689.5" y="427.6">positive regulation</tspan><tspan x="3689.5" y="440.9">of nitrogen</tspan><tspan x="3689.5" y="454.2">compound metabolic</tspan><tspan x="3689.5" y="467.5">process</tspan></text></g>
<g id="positive_regulation_of_biosynthetic_process" class="n"><rect x="3851" y="423" width="114" height="49"/><text><tspan x="3908" y="434.2">positive regulation</tspan><tspan x="3908" y="447.5">of biosynthetic</tspan><tspan x="3908" y="460.8">process</tspan></text></g>
<g id="regulation_of_nucleobase_containing_compound_metabolic_process" class="n"><rect x="4011" y="416" width="138" height="63"/><text><tspan x="4080" y="427.6">regulation of</tspan><tspan x="4080" y="440.9">nucleobase-containing</tspan><tspan x="4080" y="454.2">compound metabolic</tspan><tspan x="4080" y="467.5">process</tspan></text></g>
<g id="positive_regulation_of_cellular_biosynthetic_process" class="n"><rect x="3845" y="518" width="115" height="63"/><text><tspan x="3902.5" y="529.6">positive regulation</tspan><tspan x="3902.5" y="542.9">of cellular</tspan><tspan x="3902.5" y="556.2">biosynthetic</tspan><tspan x="3902.5" y="569.5">process</tspan></text></g>
<g id="positive_regulation_of_nucleobase_containing_compound_metabolic_process" class="n"><rect x="4005" y="518" width="156" height="63"/><text><tspan x="4083" y="529.6">positive regulation</tspan><tspan x="4083" y="542.9">of nucleobase-containing</tspan><tspan x="4083" y="556.2">compound metabolic</tspan><tspan x="4083" y="569.5">process</tspan></text></g>
<g id="biosynthetic_process" class="n"><rect x="4295" y="162" width="81" height="37"/><text><tspan x="4335.5" y="173.9">biosynthetic</tspan><tspan x="4335.5" y="187.2">process</tspan></text></g>
<g id="organic_substance_metabolic_process" class="n"><rect x="4985" y="162" width="116" height="37"/><text><tspan x="5043" y="173.9">organic substance</tspan><tspan x="5043" y="187.2">metabolic process</tspan></text></g>
<g id="cellular_aromatic_compound_metabolic_process" class="n"><rect x="4384" y="241" width="130" height="49"/><text><tspan x="4449" y="252.2">cellular aromatic</tspan><tspan x="4449" y="265.5">compound metabolic</tspan><tspan x="4449" y="278.8">process</tspan></text></g>
<g id="heterocycle_metabolic_process" class="n"><rect x="4561" y="247" width="116" height="37"/><text><tspan x="4619" y="258.9">heterocycle</tspan><tspan x="4619" y="272.2">metabolic process</tspan></text></g>
<g id="cellular_biosynthetic_process" class="n"><rect x="4723" y="247" width="125" height="37"/><text><tspan x="4785.5" y="258.9">cellular biosynthetic</tspan><tspan x="4785.5" y="272.2">process</tspan></text></g>
<g id="organic_cyclic_compound_metabolic_process" class="n"><rect x="4893" y="241" width="131" height="49"/><text><tspan x="4958.5" y="252.2">organic cyclic</tspan><tspan x="4958.5" y="265.5">compound metabolic</tspan><tspan x="4958.5" y="278.8">process</tspan></text></g>
<g id="organic_substance_biosynthetic_process" class="n"><rect x="5070" y="241" width="117" height="49"/><text><tspan x="5128.5" y="252.2">organic substance</tspan><tspan x="5128.5" y="265.5">biosynthetic</tspan><tspan x="5128.5" y="278.8">process</tspan></text></g>
<g id="nucleobase_containing_compound_metabolic_process" class="n"><rect x="4335" y="326" width="138" height="51"/><text><tspan x="4404" y="338.2">nucleobase-containing</tspan><tspan x="4404" y="351.5">compound metabolic</tspan><tspan x="4404" y="364.8">process</tspan></text></g>
<g id="cellular_nitrogen_compound_biosynthetic_process" class="n"><rect x="4518" y="326" width="145" height="51"/><text><tspan x="4590.5" y="338.2">cellular nitrogen</tspan><tspan x="4590.5" y="351.5">compound biosynthetic</tspan><tspan x="4590.5" y="364.8">process</tspan></text></g>
<g id="aromatic_compound_biosynthetic_process" class="n"><rect x="4709" y="326" width="125" height="51"/><text><tspan x="4771.5" y="338.2">aromatic compound</tspan><tspan x="4771.5" y="351.5">biosynthetic</tspan><tspan x="4771.5" y="364.8">process</tspan></text></g>
<g id="heterocycle_biosynthetic_process" class="n"><rect x="4878" y="326" width="81" height="51"/><text><tspan x="4918.5" y="338.2">heterocycle</tspan><tspan x="4918.5" y="351.5">biosynthetic</tspan><tspan x="4918.5" y="364.8">process</tspan></text></g>
<g id="organic_cyclic_compound_biosynthetic_process" class="n"><rect x="5055" y="326" width="144" height="51"/><text><tspan x="5127" y="338.2">organic cyclic</tspan><tspan x="5127" y="351.5">compound biosynthetic</tspan><tspan x="5127" y="364.8">process</tspan></text></g>
<g id="regulation_of_cellular_biosynthetic_process" class="n"><rect x="4195" y="423" width="125" height="49"/><text><tspan x="4257.5" y="434.2">regulation of</tspan><tspan x="4257.5" y="447.5">cellular biosynthetic</tspan><tspan x="4257.5" y="460.8">process</tspan></text></g>
<g id="nucleic_acid_metabolic_process" class="n"><rect x="4468" y="429" width="115" height="36"/><text><tspan x="4525.5" y="440.4">nucleic acid</tspan><tspan x="4525.5" y="453.7">metabolic process</tspan></text></g>
<g id="regulation_of_macromolecule_metabolic_process" class="n"><rect x="4629" y="423" width="117" height="49"/><text><tspan x="4687.5" y="434.2">regulation of</tspan><tspan x="4687.5" y="447.5">macromolecule</tspan><tspan x="4687.5" y="460.8">metabolic process</tspan></text></g>
<g id="nucleobase_containing_compound_biosynthetic_process" class="n"><rect x="4790" y="423" width="145" height="49"/><text><tspan x="4862.5" y="434.2">nucleobase-containing</tspan><tspan x="4862.5" y="447.5">compound biosynthetic</tspan><tspan x="4862.5" y="460.8">process</tspan></text></g>
<g id="macromolecule_biosynthetic_process" class="n"><rect x="5031" y="423" width="99" height="49"/><text><tspan x="5080.5" y="434.2">macromolecule</tspan><tspan x="5080.5" y="447.5">biosynthetic</tspan><tspan x="5080.5" y="460.8">process</tspan></text></g>
<g id="gene_expression" class="n"><rect x="5176" y="436" width="104" height="23"/><text x="5228" y="447.5">gene expression</text></g>
<g id="RNA_metabolic_process" class="n"><rect x="4263" y="532" width="96" height="36"/><text><tspan x="4311" y="543.4">RNA metabolic</tspan><tspan x="4311" y="556.7">process</tspan></text></g>
<g id="positive_regulation_of_macromolecule_metabolic_process" class="n"><rect x="4558" y="525" width="115" height="49"/><text><tspan x="4615.5" y="536.2">positive regulation</tspan><tspan x="4615.5" y="549.5">of macromolecule</tspan><tspan x="4615.5" y="562.8">metabolic process</tspan></text></g>
<g id="regulation_of_macromolecule_biosynthetic_process" class="n"><rect x="4719" y="518" width="98" height="63"/><text><tspan x="4768" y="529.6">regulation of</tspan><tspan x="4768" y="542.9">macromolecule</tspan><tspan x="4768" y="556.2">biosynthetic</tspan><tspan x="4768" y="569.5">process</tspan></text></g>
<g id="regulation_of_gene_expression" class="n"><rect x="5066" y="532" width="106" height="36"/><text><tspan x="5119" y="543.4">regulation of</tspan><tspan x="5119" y="556.7">gene expression</tspan></text></g>
<g id="regulation_of_RNA_metabolic_process" class="n"><rect x="4263" y="631" width="96" height="50"/><text><tspan x="4311" y="642.7">regulation of</tspan><tspan x="4311" y="656">RNA metabolic</tspan><tspan x="4311" y="669.3">process</tspan></text></g>
<g id="positive_regulation_of_macromolecule_biosynthetic_process" class="n"><rect x="4560" y="626" width="115" height="62"/><text><tspan x="4617.5" y="637.1">positive regulation</tspan><tspan x="4617.5" y="650.4">of macromolecule</tspan><tspan x="4617.5" y="663.7">biosynthetic</tspan><tspan x="4617.5" y="677">process</tspan></text></g>
<g id="RNA_biosynthetic_process" class="n"><rect x="4791" y="638" width="110" height="37"/><text><tspan x="4846" y="649.9">RNA biosynthetic</tspan><tspan x="4846" y="663.2">process</tspan></text></g>
<g id="positive_regulation_of_gene_expression" class="n"><rect x="4950" y="617" width="122" height="36"/><text><tspan x="5011" y="628.4">positive regulation</tspan><tspan x="5011" y="641.7">of gene expression</tspan></text><rect class="m" x="4950" y="653" width="61" height="22"/><rect class="m" x="5011" y="653" width="61" height="22"/><text x="4980.5" y="664">Mouse</text><text x="5041.5" y="664">Klf1</text><rect class="z" x="4950" y="675" width="61" height="21"/><rect class="z" x="5011" y="675" width="61" height="21"/><text x="4980.5" y="685.5">Zfish</text><text x="5041.5" y="685.5">klf1</text></g>
<g id="positive_regulation_of_RNA_metabolic_process" class="n"><rect x="4253" y="736" width="115" height="49"/><text><tspan x="4310.5" y="747.2">positive regulation</tspan><tspan x="4310.5" y="760.5">of RNA metabolic</tspan><tspan x="4310.5" y="773.8">process</tspan></text></g>
<g id="regulation_of_RNA_biosynthetic_process" class="n"><rect x="4667" y="736" width="110" height="49"/><text><tspan x="4722" y="747.2">regulation of</tspan><tspan x="4722" y="760.5">RNA biosynthetic</tspan><tspan x="4722" y="773.8">process</tspan></text></g>
<g id="nucleic_acid_templated_transcription" class="n"><rect x="4874" y="743" width="141" height="36"/><text><tspan x="4944.5" y="754.4">nucleic acid-templated</tspan><tspan x="4944.5" y="767.7">transcription</tspan></text></g>
<g id="positive_regulation_of_RNA_biosynthetic_process" class="n"><rect x="4554" y="829" width="125" height="49"/><text><tspan x="4616.5" y="840.2">positive regulation</tspan><tspan x="4616.5" y="853.5">of RNA biosynthetic</tspan><tspan x="4616.5" y="866.8">process</tspan></text></g>
<g id="regulation_of_nucleic_acid_templated_transcription" class="n"><rect x="4730" y="829" width="141" height="49"/><text><tspan x="4800.5" y="840.2">regulation of</tspan><tspan x="4800.5" y="853.5">nucleic acid-templated</tspan><tspan x="4800.5" y="866.8">transcription</tspan></text></g>
<g id="DNA_templated_transcription" class="n"><rect x="4971" y="825" width="101" height="36"/><text><tspan x="5021.5" y="836.4">DNA-templated</tspan><tspan x="5021.5" y="849.7">transcription</tspan></text><rect class="z" x="4971" y="861" width="50.5" height="21"/><rect class="z" x="5021.5" y="861" width="50.5" height="21"/><text x="4996.3" y="871.5">Zfish</text><text x="5046.8" y="871.5">klf1</text></g>
<g id="positive_regulation_of_nucleic_acid_templated_transcription" class="n"><rect x="4709" y="940" width="155" height="49"/><text><tspan x="4786.5" y="951.2">positive regulation</tspan><tspan x="4786.5" y="964.5">of nucleic acid-templated</tspan><tspan x="4786.5" y="977.8">transcription</tspan></text></g>
<g id="regulation_of_DNA_templated_transcription" class="n"><rect x="4961" y="919" width="100" height="49"/><text><tspan x="5011" y="930.2">regulation of</tspan><tspan x="5011" y="943.5">DNA-templated</tspan><tspan x="5011" y="956.8">transcription</tspan></text><rect class="h" x="4961" y="968" width="50" height="21"/><rect class="h" x="5011" y="968" width="50" height="21"/><text x="4986" y="978.5">Human</text><text x="5036" y="978.5">KLF1</text><rect class="z" x="4961" y="989" width="50" height="22"/><rect class="z" x="5011" y="989" width="50" height="22"/><text x="4986" y="1000">Zfish</text><text x="5036" y="1000">klf1</text></g>
<g id="transcription_by_RNA_polymerase_II" class="n"><rect x="5107" y="940" width="125" height="49"/><text><tspan x="5169.5" y="951.2">transcription</tspan><tspan x="5169.5" y="964.5">by RNA polymerase</tspan><tspan x="5169.5" y="977.8">II</tspan></text></g>
<g id="positive_regulation_of_DNA_templated_transcription" class="n"><rect x="4842" y="1047" width="116" height="49"/><text><tspan x="4900" y="1058.2">positive regulation</tspan><tspan x="4900" y="1071.5">of DNA-templated</tspan><tspan x="4900" y="1084.8">transcription</tspan></text><rect class="h" x="4842" y="1096" width="58" height="21"/><rect class="h" x="4900" y="1096" width="58" height="21"/><text x="4871" y="1106.5">Human</text><text x="4929" y="1106.5">KLF1</text><rect class="m" x="4842" y="1117" width="58" height="22"/><rect class="m" x="4900" y="1117" width="58" height="22"/><text x="4871" y="1128">Mouse</text><text x="4929" y="1128">Klf1</text></g>
<g id="regulation_of_transcription_by_RNA_polymerase_II" class="n"><rect x="5004" y="1051" width="127" height="62"/><text><tspan x="5067.5" y="1062.1">regulation of</tspan><tspan x="5067.5" y="1075.4">transcription</tspan><tspan x="5067.5" y="1088.7">by RNA polymerase</tspan><tspan x="5067.5" y="1102">II</tspan></text><rect class="z" x="5004" y="1113" width="63.5" height="22"/><rect class="z" x="5067.5" y="1113" width="63.5" height="22"/><text x="5035.8" y="1124">Zfish</text><text x="5099.3" y="1124">klf1</text></g>
<g id="positive_regulation_of_transcription_by_RNA_polymerase_II" class="n"><rect x="4972" y="1174" width="127" height="63"/><text><tspan x="5035.5" y="1185.6">positive regulation</tspan><tspan x="5035.5" y="1198.9">of transcription</tspan><tspan x="5035.5" y="1212.2">by RNA polymerase</tspan><tspan x="5035.5" y="1225.5">II</tspan></text><rect class="m" x="4972" y="1237" width="63.5" height="22"/><rect class="m" x="5035.5" y="1237" width="63.5" height="22"/><text x="5003.8" y="1248">Mouse</text><text x="5067.3" y="1248">Klf1</text></g>
<g id="response_to_stimulus" class="n"><rect x="5606" y="84" width="79" height="36"/><text><tspan x="5645.5" y="95.4">response to</tspan><tspan x="5645.5" y="108.7">stimulus</tspan></text></g>
<g id="cellular_response_to_stimulus" class="n"><rect x="5523" y="162" width="108" height="37"/><text><tspan x="5577" y="173.9">cellular response</tspan><tspan x="5577" y="187.2">to stimulus</tspan></text></g>
<g id="response_to_chemical" class="n"><rect x="5676" y="162" width="78" height="37"/><text><tspan x="5715" y="173.9">response to</tspan><tspan x="5715" y="187.2">chemical</tspan></text></g>
<g id="response_to_endogenous_stimulus" class="n"><rect x="5972" y="162" width="133" height="37"/><text><tspan x="6038.5" y="173.9">response to</tspan><tspan x="6038.5" y="187.2">endogenous stimulus</tspan></text></g>
<g id="macromolecule_metabolic_process" class="n"><rect x="5245" y="333" width="117" height="36"/><text><tspan x="5303.5" y="344.4">macromolecule</tspan><tspan x="5303.5" y="357.7">metabolic process</tspan></text></g>
<g id="response_to_oxygen_containing_compound" class="n"><rect x="5431" y="241" width="115" height="49"/><text><tspan x="5488.5" y="252.2">response to</tspan><tspan x="5488.5" y="265.5">oxygen-containing</tspan><tspan x="5488.5" y="278.8">compound</tspan></text></g>
<g id="cellular_response_to_chemical_stimulus" class="n"><rect x="5591" y="241" width="109" height="49"/><text><tspan x="5645.5" y="252.2">cellular response</tspan><tspan x="5645.5" y="265.5">to chemical</tspan><tspan x="5645.5" y="278.8">stimulus</tspan></text></g>
<g id="response_to_organic_substance" class="n"><rect x="5745" y="247" width="116" height="37"/><text><tspan x="5803" y="258.9">response to</tspan><tspan x="5803" y="272.2">organic substance</tspan></text></g>
<g id="response_to_nitrogen_compound" class="n"><rect x="5907" y="247" width="120" height="37"/><text><tspan x="5967" y="258.9">response to</tspan><tspan x="5967" y="272.2">nitrogen compound</tspan></text></g>
<g id="cellular_response_to_endogenous_stimulus" class="n"><rect x="6088" y="241" width="109" height="49"/><text><tspan x="6142.5" y="252.2">cellular response</tspan><tspan x="6142.5" y="265.5">to endogenous</tspan><tspan x="6142.5" y="278.8">stimulus</tspan></text></g>
<g id="cellular_response_to_oxygen_containing_compound" class="n"><rect x="5508" y="326" width="131" height="51"/><text><tspan x="5573.5" y="338.2">cellular response</tspan><tspan x="5573.5" y="351.5">to oxygen-containing</tspan><tspan x="5573.5" y="364.8">compound</tspan></text></g>
<g id="cellular_response_to_organic_substance" class="n"><rect x="5684" y="333" width="131" height="36"/><text><tspan x="5749.5" y="344.4">cellular response</tspan><tspan x="5749.5" y="357.7">to organic substance</tspan></text></g>
<g id="response_to_organonitrogen_compound" class="n"><rect x="5861" y="326" width="96" height="51"/><text><tspan x="5909" y="338.2">response to</tspan><tspan x="5909" y="351.5">organonitrogen</tspan><tspan x="5909" y="364.8">compound</tspan></text></g>
<g id="cellular_response_to_nitrogen_compound" class="n"><rect x="6001" y="326" width="108" height="51"/><text><tspan x="6055" y="338.2">cellular response</tspan><tspan x="6055" y="351.5">to nitrogen</tspan><tspan x="6055" y="364.8">compound</tspan></text></g>
<g id="response_to_peptide" class="n"><rect x="5676" y="429" width="78" height="36"/><text><tspan x="5715" y="440.4">response to</tspan><tspan x="5715" y="453.7">peptide</tspan></text></g>
<g id="cellular_response_to_organonitrogen_compound" class="n"><rect x="5853" y="423" width="111" height="49"/><text><tspan x="5908.5" y="434.2">cellular response</tspan><tspan x="5908.5" y="447.5">to organonitrogen</tspan><tspan x="5908.5" y="460.8">compound</tspan></text></g>
<g id="cellular_response_to_peptide" class="n"><rect x="5660" y="521" width="109" height="36"/><text><tspan x="5714.5" y="532.4">cellular response</tspan><tspan x="5714.5" y="545.7">to peptide</tspan></text><rect class="r" x="5660" y="557" width="54.5" height="22"/><rect class="r" x="5714.5" y="557" width="54.5" height="22"/><text x="5687.3" y="568">Rat</text><text x="5741.8" y="568">Klf1</text></g>
</g>
</svg>
